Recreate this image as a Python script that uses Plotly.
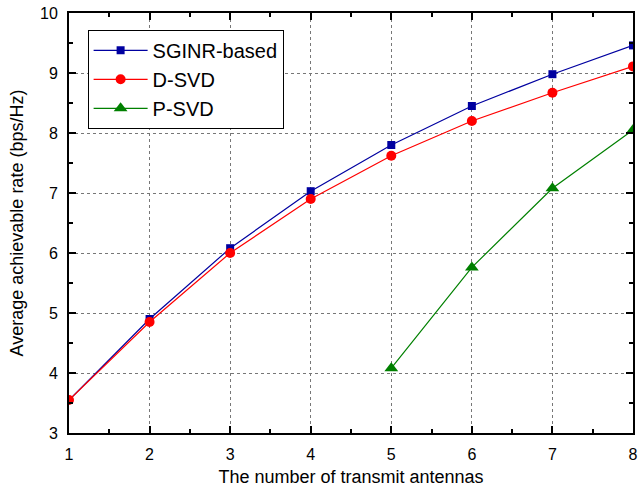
import plotly.graph_objects as go

antennas = [1, 2, 3, 4, 5, 6, 7, 8]
sginr = [3.55, 4.90, 6.08, 7.03, 7.80, 8.45, 8.98, 9.46]
dsvd = [3.55, 4.85, 6.00, 6.90, 7.62, 8.20, 8.67, 9.11]
psvd_x = [5, 6, 7, 8]
psvd = [4.08, 5.76, 7.08, 8.05]

font = "Arial, Liberation Sans, sans-serif"

fig = go.Figure()
fig.add_trace(go.Scatter(x=antennas, y=sginr, mode="lines+markers", name="SGINR-based",
                         line=dict(color="#0000a0", width=1.2),
                         marker=dict(symbol="square", size=8, color="#0000a0")))
fig.add_trace(go.Scatter(x=antennas, y=dsvd, mode="lines+markers", name="D-SVD",
                         line=dict(color="#ff0000", width=1.2),
                         marker=dict(symbol="circle", size=10, color="#ff0000")))
fig.add_trace(go.Scatter(x=psvd_x, y=psvd, mode="lines+markers", name="P-SVD",
                         line=dict(color="#008000", width=1.2),
                         marker=dict(symbol="triangle-up", size=12, color="#008000")))

axis_common = dict(
    showline=True, linecolor="black", linewidth=2, mirror="allticks",
    ticks="inside", ticklen=7, tickwidth=1.5, tickcolor="black",
    showgrid=True, gridcolor="#777777", griddash="dot", gridwidth=1,
    zeroline=False, tickfont=dict(size=16, family=font, color="black"),
    ticklabelstandoff=6,
    minor=dict(ticks="inside", ticklen=4, tickwidth=1.5, tickcolor="black", dtick=0.5, showgrid=False),
)

fig.update_xaxes(range=[1, 8], dtick=1, tick0=1,
                 title=dict(text="The number of transmit antennas", font=dict(size=18, family=font, color="black"), standoff=8),
                 **axis_common)
fig.update_yaxes(range=[3, 10], dtick=1, tick0=3,
                 title=dict(text="Average achievable rate (bps/Hz)", font=dict(size=18, family=font, color="black"), standoff=12),
                 **axis_common)

fig.update_layout(
    width=642, height=490,
    margin=dict(l=69, r=4, t=13, b=57),
    plot_bgcolor="white", paper_bgcolor="white",
    font=dict(family=font, color="black"),
    legend=dict(x=0.033, y=0.96, xanchor="left", yanchor="top",
                bordercolor="black", borderwidth=1, bgcolor="white",
                font=dict(size=20, family=font, color="black"),
                itemwidth=54, tracegroupgap=0),
    showlegend=True,
)

fig.write_html("out.html")
